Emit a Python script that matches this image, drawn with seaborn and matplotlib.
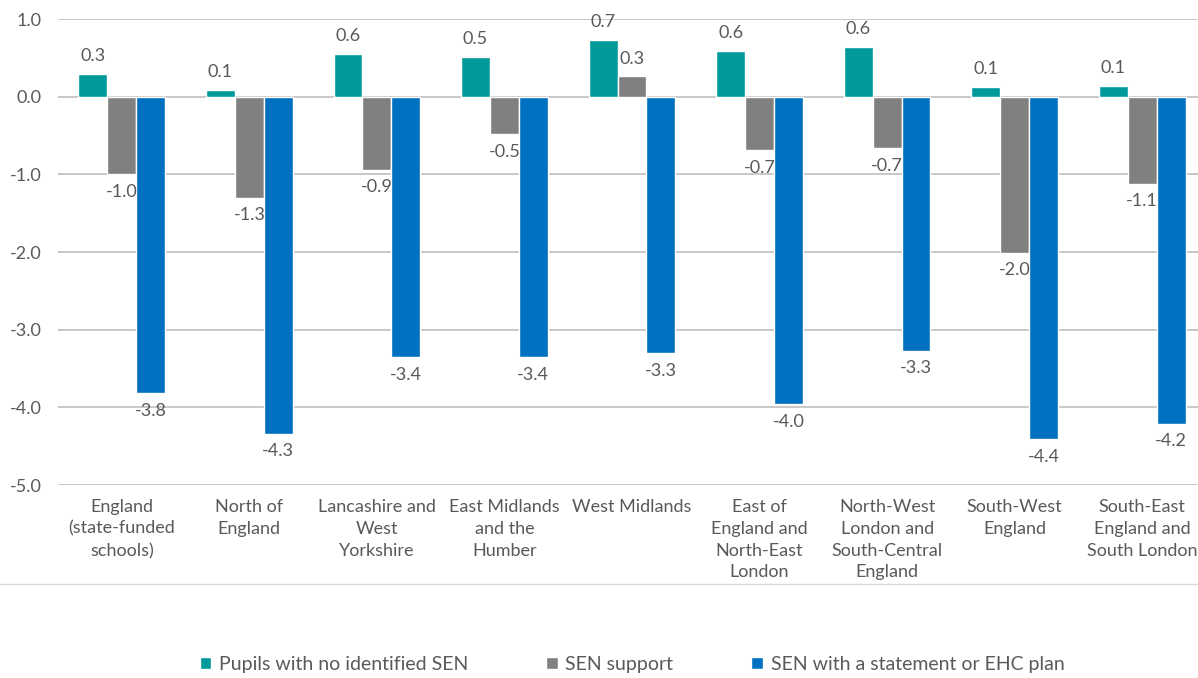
import numpy as np
import pandas as pd
import matplotlib
matplotlib.use("Agg")
import matplotlib.pyplot as plt
from matplotlib.lines import Line2D
import seaborn as sns

regions = ["England\n(state-funded\nschools)", "North of\nEngland",
           "Lancashire and\nWest\nYorkshire", "East Midlands\nand the\nHumber",
           "West Midlands", "East of\nEngland and\nNorth-East\nLondon",
           "North-West\nLondon and\nSouth-Central\nEngland", "South-West\nEngland",
           "South-East\nEngland and\nSouth London"]
series = ["Pupils with no identified SEN", "SEN support",
          "SEN with a statement or EHC plan"]
no_sen = [0.29, 0.09, 0.55, 0.51, 0.73, 0.59, 0.64, 0.13, 0.14]
sen_support = [-1.00, -1.30, -0.94, -0.48, 0.26, -0.69, -0.66, -2.01, -1.12]
ehc_plan = [-3.82, -4.34, -3.35, -3.35, -3.30, -3.96, -3.27, -4.41, -4.21]
colors = ["#009A9A", "#808080", "#0070C0"]

df = pd.DataFrame({
    "region": regions * 3,
    "group": [series[0]] * 9 + [series[1]] * 9 + [series[2]] * 9,
    "value": no_sen + sen_support + ehc_plan,
})

sns.set_style("white")
plt.rcParams["font.family"] = ["Lato", "DejaVu Sans"]
txt = "#595959"

fig = plt.figure(figsize=(11.98, 6.78), dpi=100)
ax = fig.add_axes([58 / 1198, 1 - 485 / 678, 1148 / 1198, 466 / 678])

sns.barplot(data=df, x="region", y="value", hue="group", palette=colors,
            width=0.68, gap=0, saturation=1, ax=ax, legend=True, zorder=2)

for c in ax.containers:
    ax.bar_label(c, fmt="%.1f", padding=7, fontsize=13, color=txt)

ax.set_ylim(-5, 1)
ax.set_yticks(np.arange(-5, 1.01, 1))
ax.set_yticklabels([f"{v:.1f}" for v in np.arange(-5, 1.01, 1)])
ax.set_xticks(range(len(regions)), regions, linespacing=1.45)
ax.yaxis.grid(True, color="#BFBFBF", linewidth=1.2, zorder=0)
ax.set_axisbelow(True)
for s in ax.spines.values():
    s.set_visible(False)
ax.set_xlabel("")
ax.set_ylabel("")
ax.tick_params(axis="both", length=0, labelsize=13, colors=txt)
ax.tick_params(axis="x", pad=10)
ax.tick_params(axis="y", pad=12)

fig.add_artist(Line2D([0, 1], [1 - 584 / 678, 1 - 584 / 678],
                      color="#D9D9D9", linewidth=1, zorder=0))

ax.legend(loc="center", bbox_to_anchor=(0.5, -0.385),
          ncol=3, frameon=False, fontsize=14, handlelength=0.6,
          handleheight=0.6, columnspacing=4.0, handletextpad=0.4,
          labelcolor=txt)

fig.savefig("out.png", dpi=100)
